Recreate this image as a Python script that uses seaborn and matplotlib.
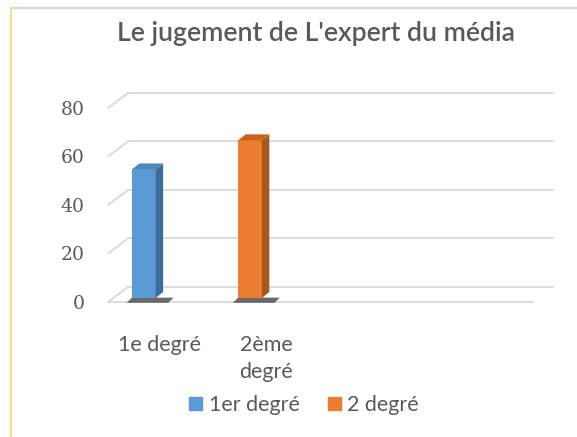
import matplotlib.pyplot as plt
import matplotlib.transforms as mtransforms
from matplotlib.patches import Polygon, Rectangle
from matplotlib.lines import Line2D
import seaborn as sns
import pandas as pd

# Data
categories = ["1e degré", "2ème\ndegré"]
series_names = ["1er degré", "2 degré"]
values_1er = [53, 0]
values_2 = [0, 65]
y_ticks = [0, 20, 40, 60, 80]

rows = []
for cat, v1, v2 in zip(categories, values_1er, values_2):
    rows.append({"categorie": cat, "serie": series_names[0], "valeur": v1})
    rows.append({"categorie": cat, "serie": series_names[1], "valeur": v2})
data = pd.DataFrame(rows)

colors = {"1er degré": "#5B9BD5", "2 degré": "#ED7D31"}
side_colors = {"1er degré": "#3B6E9E", "2 degré": "#A9561D"}
top_colors = {"1er degré": "#4F86BC", "2 degré": "#C8621E"}
text_col = "#595959"
grid_col = "#D9D9D9"

sns.set_style("white")
plt.rcParams['font.family'] = ['Lato', 'DejaVu Sans']

fig = plt.figure(figsize=(5.77, 4.37), dpi=100)
ax = fig.add_axes([108 / 577, 135 / 437, 445 / 577, 218.3 / 437])

sns.barplot(data=data, x="categorie", y="valeur", hue="serie", dodge=False,
            width=0.223, palette=colors, saturation=1, ax=ax, legend=False, zorder=3)

x_left, x_front_end = -0.337, 3.665
ax.set_xlim(x_left, 3.853)
ax.set_ylim(0, 90)

# depth of the back wall, in data units
dx_wall, dy_wall = 20 / 106.2, 15 / 2.425
for v in y_ticks:
    ax.plot([x_left + dx_wall, x_front_end + dx_wall], [v + dy_wall, v + dy_wall],
            color=grid_col, lw=1.3, zorder=1, clip_on=False)
    ax.plot([x_left, x_left + dx_wall], [v, v + dy_wall],
            color=grid_col, lw=1.3, zorder=1, clip_on=False)
ax.plot([x_left, x_front_end], [0, 0], color=grid_col, lw=1.3, zorder=1, clip_on=False)

# pseudo 3D faces on the bars
bar_shift = mtransforms.ScaledTranslation(0, 0.04, fig.dpi_scale_trans)
ddx, ddy = 7.5 / 106.2, 6 / 2.425
bars = [p for p in ax.patches if isinstance(p, Rectangle)]
hue_order = list(series_names)
for i, p in enumerate(bars):
    serie = hue_order[i // len(categories)]
    h = p.get_height()
    if h <= 0:
        p.set_visible(False)
        continue
    p.set_transform(ax.transData + bar_shift)
    p.set_edgecolor("none")
    x0, w = p.get_x(), p.get_width()
    side = Polygon([(x0 + w, 0), (x0 + w + ddx, ddy), (x0 + w + ddx, h + ddy), (x0 + w, h)],
                   closed=True, facecolor=side_colors[serie], edgecolor="none",
                   transform=ax.transData + bar_shift, zorder=3)
    top = Polygon([(x0, h), (x0 + w, h), (x0 + w + ddx, h + ddy), (x0 + ddx, h + ddy)],
                  closed=True, facecolor=top_colors[serie], edgecolor="none",
                  transform=ax.transData + bar_shift, zorder=3)
    shadow = Polygon([(x0 - 0.05, -0.3), (x0 + w + 0.12, -0.3), (x0 + w + 0.17, 1.8), (x0, 1.8)],
                     closed=True, facecolor="#3A3A3A", alpha=0.75, edgecolor="none",
                     transform=ax.transData, zorder=2, clip_on=False)
    ax.add_patch(shadow)
    ax.add_patch(side)
    ax.add_patch(top)

sns.despine(ax=ax, left=True, bottom=True)
ax.set_xlabel("")
ax.set_ylabel("")
ax.set_yticks(y_ticks)
ax.set_yticklabels([str(t) for t in y_ticks], family=['DejaVu Serif'],
                   fontsize=13.5, color=text_col)
ax.tick_params(axis="y", length=0, pad=17)
ax.tick_params(axis="x", length=0, pad=24)
ax.set_xticks(range(len(categories)))
ax.set_xticklabels(categories, fontsize=15.5, color=text_col, linespacing=1.4)
label_shift = mtransforms.ScaledTranslation(0.16, 0, fig.dpi_scale_trans)
for lab in ax.get_xticklabels():
    lab.set_transform(lab.get_transform() + label_shift)
ax.grid(False)

fig.text(316 / 577, 1 - 33 / 437, "Le jugement de L'expert du média", ha="center",
         va="center", fontsize=19.2, color=text_col, fontweight="semibold")

handles = [Rectangle((0, 0), 1, 1, color=colors[s]) for s in series_names]
fig.legend(handles, series_names, loc="center", bbox_to_anchor=(304 / 577, 1 - 405 / 437),
           ncol=2, frameon=False, fontsize=15.5, handlelength=0.6, handleheight=0.6,
           handletextpad=0.3, columnspacing=1.3, labelcolor=text_col)

# chart frame
fig.add_artist(Line2D([11 / 577, 1], [1 - 8 / 437, 1 - 8 / 437], color="#D9D9D9", lw=1.6))
fig.add_artist(Line2D([11 / 577, 11 / 577], [0, 1 - 8 / 437], color="#FFD966", lw=1.2))

plt.savefig("out.png", dpi=100)
